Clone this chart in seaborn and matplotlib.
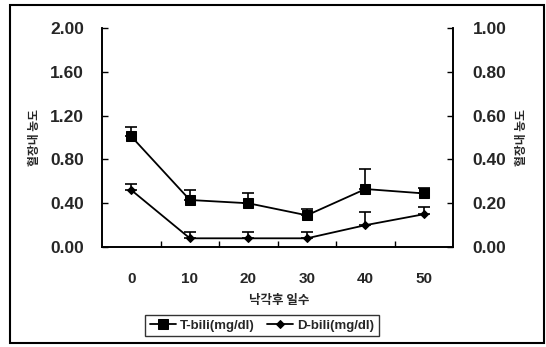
import numpy as np
import pandas as pd
import matplotlib
matplotlib.use("Agg")
import matplotlib.pyplot as plt
import seaborn as sns
from matplotlib.patches import Rectangle
from matplotlib.ticker import FixedLocator

days = [0, 10, 20, 30, 40, 50]
t_bili = [1.01, 0.43, 0.40, 0.29, 0.53, 0.49]
t_bili_err = [0.09, 0.09, 0.09, 0.06, 0.18, 0.05]
d_bili = [0.26, 0.04, 0.04, 0.04, 0.10, 0.15]
d_bili_err = [0.03, 0.03, 0.03, 0.03, 0.06, 0.035]
left_ticks = [0.0, 0.4, 0.8, 1.2, 1.6, 2.0]
right_ticks = [0.0, 0.2, 0.4, 0.6, 0.8, 1.0]
xlabel = "낙각후 일수"
ylabel = "혈장내 농도"
labels = ["T-bili(mg/dl)", "D-bili(mg/dl)"]

sns.set_style("white")
plt.rcParams['font.family'] = ['Liberation Sans', 'Noto Sans CJK KR', 'DejaVu Sans']

df = pd.DataFrame({"day": days, "t": t_bili, "d": d_bili})

fig = plt.figure(figsize=(5.46, 3.47), dpi=100)
ax = fig.add_axes([0.187, 0.288, 0.643, 0.631])
ax2 = ax.twinx()

sns.lineplot(data=df, x="day", y="t", ax=ax, color="black", marker="s",
             markersize=7.5, linewidth=1.3, label=labels[0], legend=False,
             markeredgecolor="black")
ax.errorbar(days, t_bili, yerr=[np.zeros(len(days)), t_bili_err], fmt="none",
            ecolor="black", elinewidth=1.2, capsize=4, capthick=1.2)

sns.lineplot(data=df, x="day", y="d", ax=ax2, color="black", marker="D",
             markersize=4.5, linewidth=1.3, label=labels[1], legend=False,
             markeredgecolor="black")
ax2.errorbar(days, d_bili, yerr=[np.zeros(len(days)), d_bili_err], fmt="none",
             ecolor="black", elinewidth=1.2, capsize=4, capthick=1.2)

ax.set_xlim(-5, 55)
ax.set_ylim(0, 2.0)
ax2.set_ylim(0, 1.0)
ax.set_yticks(left_ticks)
ax.set_yticklabels([f"{v:.2f}" for v in left_ticks])
ax2.set_yticks(right_ticks)
ax2.set_yticklabels([f"{v:.2f}" for v in right_ticks])
ax.set_xticks(days)
ax.set_xticklabels([str(d) for d in days])
ax.xaxis.set_minor_locator(FixedLocator([5, 15, 25, 35, 45]))

for a in (ax, ax2):
    a.spines["top"].set_visible(False)
    for s in ("left", "right", "bottom"):
        a.spines[s].set_color("black")
        a.spines[s].set_linewidth(1.2)
    a.grid(False)

ax.tick_params(axis="x", which="major", length=0, pad=18, labelsize=11)
ax.tick_params(axis="x", which="minor", direction="in", length=4, width=1, color="black", bottom=True)
ax.tick_params(axis="y", direction="in", length=4, width=1, color="black", pad=13, labelsize=12.5, left=True)
ax2.tick_params(axis="y", direction="in", length=4, width=1, color="black", pad=14, labelsize=12.5, right=True)
for lab in ax.get_xticklabels() + ax.get_yticklabels() + ax2.get_yticklabels():
    lab.set_fontweight("bold")

ax.set_xlabel(xlabel, fontsize=9, family=["Noto Sans CJK KR"], fontweight="bold")
ax.set_ylabel(ylabel, fontsize=8.5, family=["Noto Sans CJK KR"], fontweight="bold")
ax2.set_ylabel(ylabel, fontsize=8.5, family=["Noto Sans CJK KR"], fontweight="bold", rotation=90)
ax.xaxis.set_label_coords(0.505, -0.215)
ax.yaxis.set_label_coords(-0.175, 0.5)
ax2.yaxis.set_label_coords(1.175, 0.5)

h1, l1 = ax.get_legend_handles_labels()
h2, l2 = ax2.get_legend_handles_labels()
leg = fig.legend(h1 + h2, l1 + l2, loc="center", bbox_to_anchor=(0.48, 0.062),
                 ncol=2, frameon=True, fancybox=False, shadow=False,
                 edgecolor="black", handlelength=2.0,
                 columnspacing=0.9, handletextpad=0.3, borderpad=0.35,
                 prop={"weight": "bold", "size": 9.5})
leg.get_frame().set_linewidth(1.0)

fig.patches.append(Rectangle((10 / 546, 1 - 343 / 347), 534 / 546, 338 / 347,
                             transform=fig.transFigure, fill=False,
                             edgecolor="black", linewidth=1.5))

fig.savefig("out.png", dpi=100)
